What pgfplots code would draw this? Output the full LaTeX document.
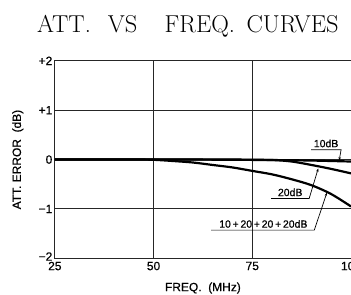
\documentclass[border=0pt]{standalone}
\usepackage{pgfplots}
\pgfplotsset{compat=1.18}
\usepackage{fontspec}
\newfontfamily\hv[FakeBold=0.6]{Liberation Sans}
\usetikzlibrary{arrows.meta}
\begin{document}
\begin{tikzpicture}
\begin{axis}[
  scale only axis, width=297pt, height=198pt,
  xmin=25, xmax=100, ymin=-2, ymax=2,
  xtick={25,50,75,100}, xticklabels={25,50,75,100},
  ytick={-2,-1,0,1,2}, yticklabels={\raisebox{3.5pt}{−2},−1,0,+1,+2},
  tick style={draw=none},
  grid=major, grid style={black!85, line width=0.9pt},
  axis line style={black!85, line width=1pt},
  ticklabel style={font=\hv\fontsize{12}{13}\selectfont},
  xticklabel style={yshift=0pt},
  yticklabel style={xshift=1pt},
  xlabel={FREQ.\ \ (MHz)}, ylabel={ATT.\ ERROR\ \ (dB)},
  label style={font=\hv\fontsize{12}{13}\selectfont},
  xlabel style={at={(axis description cs:0.5,0)}, anchor=base, yshift=-33pt},
  ylabel style={at={(axis description cs:0,0.5)}, anchor=base, yshift=34pt},
  clip=false,
]
\addplot[black, line width=2.2pt, smooth] coordinates {(25,0)(50,0)(60,0)(70,-0.005)(80,-0.01)(90,-0.02)(100,-0.04)};
\addplot[black, line width=2.2pt, smooth] coordinates {(25,0)(50,0)(70,0)(80,-0.01)(85,-0.04)(90,-0.11)(95,-0.19)(100,-0.28)};
\addplot[black, line width=2.2pt, smooth] coordinates {(25,0)(45,0)(50,-0.005)(55,-0.03)(60,-0.06)(65,-0.11)(70,-0.16)(75,-0.23)(80,-0.3)(85,-0.4)(90,-0.52)(95,-0.7)(100,-0.95)};
% annotations
\draw[line width=0.7pt, -{Stealth[length=3.5pt,width=2.5pt]}] (axis cs:89.9,0.2) -- (axis cs:97.5,0.2) -- (axis cs:97.0,-0.02);
\node[font=\hv\fontsize{10.5}{12}\selectfont, anchor=base] at (axis cs:93.7,0.25) {10dB};
\draw[line width=0.7pt, -{Stealth[length=3.5pt,width=2.5pt]}] (axis cs:79.8,-0.79) -- (axis cs:89.4,-0.79) -- (axis cs:91.7,-0.18);
\node[font=\hv\fontsize{10.5}{12}\selectfont, anchor=base] at (axis cs:84.6,-0.74) {20dB};
\draw[line width=0.7pt, -{Stealth[length=3.5pt,width=2.5pt]}] (axis cs:64.6,-1.43) -- (axis cs:90.7,-1.43) -- (axis cs:93.9,-0.67);
\node[font=\hv\fontsize{10.5}{12}\selectfont, anchor=base] at (axis cs:77.8,-1.38) {10\,+\,20\,+\,20\,+\,20dB};
\end{axis}
\begin{scope}[every node/.style={anchor=base west, inner sep=0pt, font=\fontsize{24.5}{26}\selectfont}]
\node at ([xshift=-18pt,yshift=28pt]current axis.north west) {ATT.};
\node at ([xshift=53pt,yshift=28pt]current axis.north west) {VS};
\node at ([xshift=110pt,yshift=28pt]current axis.north west) {FREQ.};
\node at ([xshift=192pt,yshift=28pt]current axis.north west) {CURVES};
\end{scope}
\pgfresetboundingbox
\path ([xshift=-55pt,yshift=-36pt]current axis.south west) rectangle ([yshift=61pt]current axis.north east);
\end{tikzpicture}
\end{document}
